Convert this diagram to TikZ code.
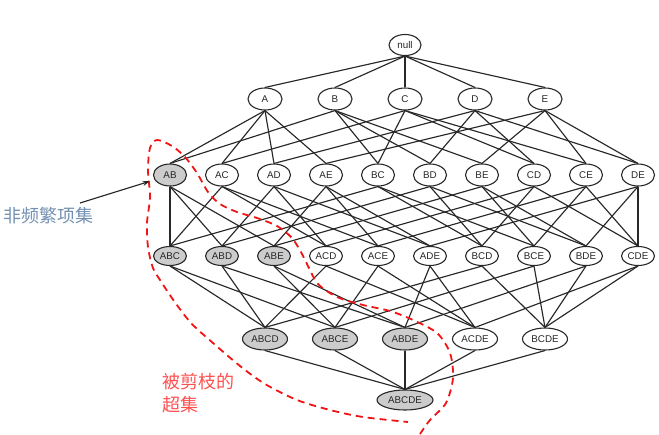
\documentclass[tikz,border=0pt]{standalone}
\usepackage{fontspec}
\setmainfont{Liberation Sans}
\newfontfamily\cjk{Noto Sans CJK SC}
\usetikzlibrary{shapes.geometric,arrows.meta}

\definecolor{edgegray}{RGB}{40,40,40}
\definecolor{nodegray}{RGB}{204,204,204}
\definecolor{notecolor}{RGB}{115,145,178}
\definecolor{prunered}{RGB}{255,80,80}
\definecolor{cutred}{RGB}{240,20,20}

\begin{document}
\begin{tikzpicture}[x=1pt, y=-1pt,
    set/.style={ellipse, draw=edgegray, line width=1.1pt, inner sep=0pt, fill=white,
        text=black!85, font=\fontsize{9.8}{10}\selectfont, minimum width=33pt, minimum height=20pt},
    freq/.style={set},
    infreq/.style={set, fill=nodegray},
    link/.style={draw=edgegray, line width=1.15pt}]
    \useasboundingbox (0,0) rectangle (659,434);

    % null and single items
    \node[set, minimum width=32pt, minimum height=21pt] (null) at (405,45) {null};
    \foreach \n [count=\i from 0] in {A,B,C,D,E}
        \node[freq, minimum width=34pt, minimum height=22pt] (\n) at (265+70*\i,99) {\n};

    % pairs
    \foreach \n/\s [count=\i from 0] in {AB/infreq,AC/freq,AD/freq,AE/freq,BC/freq,
            BD/freq,BE/freq,CD/freq,CE/freq,DE/freq}
        \node[\s, minimum height=22pt] (\n) at (170+52*\i,175) {\n};

    % triples
    \foreach \n/\s [count=\i from 0] in {ABC/infreq,ABD/infreq,ABE/infreq,ACD/freq,ACE/freq,
            ADE/freq,BCD/freq,BCE/freq,BDE/freq,CDE/freq}
        \node[\s, minimum height=19pt] (\n) at (170+52*\i,256) {\n};

    % quadruples
    \foreach \n/\s [count=\i from 0] in {ABCD/infreq,ABCE/infreq,ABDE/infreq,ACDE/freq,BCDE/freq}
        \node[\s, minimum width=45pt, minimum height=22pt] (\n) at (265+70*\i,339) {\n};

    \node[infreq, minimum width=56pt, minimum height=20pt] (ABCDE) at (405,400) {ABCDE};

    % subset links
    \foreach \p/\cs in {null/{A,B,C,D,E},
            A/{AB,AC,AD,AE}, B/{AB,BC,BD,BE}, C/{AC,BC,CD,CE}, D/{AD,BD,CD,DE}, E/{AE,BE,CE,DE},
            AB/{ABC,ABD,ABE}, AC/{ABC,ACD,ACE}, AD/{ABD,ACD,ADE}, AE/{ABE,ACE,ADE},
            BC/{ABC,BCD,BCE}, BD/{ABD,BCD,BDE}, BE/{ABE,BCE,BDE},
            CD/{ACD,BCD,CDE}, CE/{ACE,BCE,CDE}, DE/{ADE,BDE,CDE},
            ABC/{ABCD,ABCE}, ABD/{ABCD,ABDE}, ABE/{ABCE,ABDE}, ACD/{ABCD,ACDE},
            ACE/{ABCE,ACDE}, ADE/{ABDE,ACDE}, BCD/{ABCD,BCDE}, BCE/{ABCE,BCDE},
            BDE/{ABDE,BCDE}, CDE/{ACDE,BCDE},
            ABCD/{ABCDE}, ABCE/{ABCDE}, ABDE/{ABCDE}, ACDE/{ABCDE}, BCDE/{ABCDE}}
        \foreach \c in \cs
            \draw[link] (\p.south) -- (\c.north);

    % pruned region
    \draw[cutred, line width=1.8pt, dash pattern=on 7pt off 5pt] plot[smooth] coordinates {
        (420,434) (430,420) (446,403) (453,378) (450,353) (437,333) (413,320)
        (390,311) (363,305) (337,297) (318,284) (309,268) (302,254) (292,238)
        (277,226) (257,218) (237,212) (220,204) (208,192) (197,173) (185,157)
        (172,146) (157,140) (150,148) (148,170) (150,197) (147,223) (148,247)
        (153,268) (162,283) (174,301) (191,323) (213,343) (240,366) (265,384)
        (297,400) (330,410) (363,417) (408,422)};

    % labels
    \node[anchor=west, inner sep=0pt, text=notecolor, font=\cjk\fontsize{18}{20}\selectfont]
        (note) at (3,216) {非频繁项集};
    \node[anchor=west, inner sep=0pt, align=left, text=prunered, font=\cjk\fontsize{18}{23}\selectfont]
        (prune) at (162,393) {被剪枝的\\超集};

    \coordinate (tail) at (80,203);
    \draw[link, -{Stealth[length=7pt,width=5pt]}, shorten >=5pt] (tail) -- (AB);
\end{tikzpicture}
\end{document}
